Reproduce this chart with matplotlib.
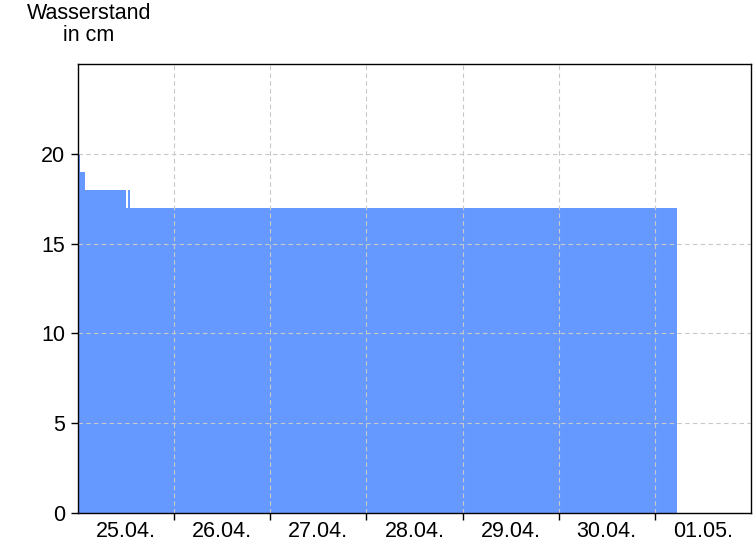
import numpy as np
import pandas as pd
import matplotlib
matplotlib.use("Agg")
import matplotlib.pyplot as plt
import matplotlib.dates as mdates

plt.rcParams['font.family'] = ['Liberation Sans', 'DejaVu Sans']

# -----------------------------
# DATA
# -----------------------------
start = pd.Timestamp("2024-04-25 00:00")
hours = [0.0, 0.5, 1.8, 12.0, 12.5, 13.0, 149.5]
levels = [20, 19, 18, 17, 18, 17, 17]
day_labels = ["25.04.", "26.04.", "27.04.", "28.04.", "29.04.", "30.04.", "01.05."]

times = [start + pd.Timedelta(hours=h) for h in hours]

fig = plt.figure(figsize=(7.56, 5.46), dpi=100)
ax = fig.add_axes([78 / 756, 33 / 546, 673 / 756, 449 / 546])

ax.fill_between(times, levels, 0, step="post", color="#6699ff", linewidth=0, zorder=1)

ax.set_ylim(0, 25)
ax.set_xlim(start, start + pd.Timedelta(days=7))

# midnight gridlines / ticks, labels centred on noon
midnights = [start + pd.Timedelta(days=d) for d in range(1, 7)]
noons = [start + pd.Timedelta(days=d, hours=12) for d in range(7)]
ax.set_xticks(midnights)
ax.set_xticklabels([])
ax.set_xticks(noons, minor=True)
ax.set_xticklabels(day_labels, minor=True)
ax.tick_params(axis="x", which="major", direction="out", length=5, width=1)
ax.tick_params(axis="x", which="minor", length=0, pad=6, labelsize=15.5)

ax.set_yticks([0, 5, 10, 15, 20])
ax.tick_params(axis="y", direction="out", length=5, width=1, labelsize=15.5, pad=4)

ax.grid(True, which="major", color="#c8c8c8", linestyle=(0, (4, 3)), linewidth=0.8, zorder=2)
ax.set_axisbelow(False)
for s in ax.spines.values():
    s.set_color("black")
    s.set_linewidth(1)
    s.set_zorder(3)

fig.text(89 / 756, 1 - 3 / 546, "Wasserstand\nin cm", ha="center", va="top",
         fontsize=15.5, linespacing=1.05)

fig.savefig("out.png", dpi=100)
